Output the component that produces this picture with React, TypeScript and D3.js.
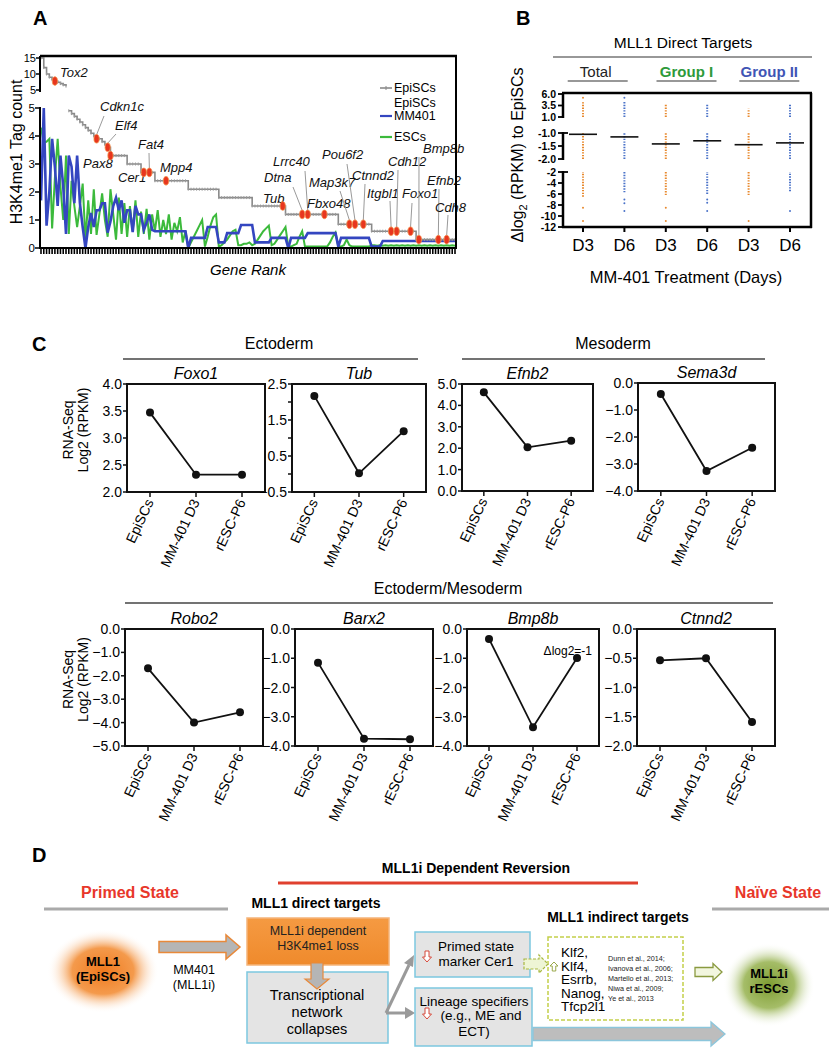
import React from 'react';
import * as d3 from 'd3';

const FONT = "Arial, 'Liberation Sans', Helvetica, sans-serif";

// ---------------- Panel A data ----------------
const A_GRAY = [
  15, 12, 10, 9, 8.3, 7.8, 7.4, 7.0, 6.6, 6.2,
  4.9, 4.8, 4.7, 4.6, 4.5, 4.4, 4.3, 4.2, 4.1, 4.0,
  3.9, 3.9, 3.8, 3.7, 3.6, 3.3, 3.3, 3.3, 3.3, 3.3,
  3.3, 3.0, 3.0, 3.0, 3.0, 3.0, 2.7, 2.7, 2.7, 2.7,
  2.7, 2.4, 2.4, 2.4, 2.4, 2.4, 2.4, 2.4, 2.4, 2.4,
  2.4, 2.4, 2.4, 2.1, 2.1, 2.1, 2.1, 2.1, 2.1, 2.1,
  2.1, 2.1, 2.1, 2.1, 1.8, 1.8, 1.8, 1.8, 1.8, 1.8,
  1.8, 1.8, 1.8, 1.8, 1.8, 1.8, 1.5, 1.5, 1.5, 1.5,
  1.5, 1.5, 1.5, 1.5, 1.5, 1.5, 1.5, 1.5, 1.2, 1.2,
  1.2, 1.2, 1.2, 1.2, 1.2, 1.2, 1.2, 1.2, 1.2, 1.2,
  1.2, 1.2, 1.2, 1.2, 1.2, 1.2, 1.2, 0.85, 0.85, 0.85,
  0.85, 0.85, 0.85, 0.85, 0.85, 0.85, 0.85, 0.85, 0.85, 0.6,
  0.6, 0.6, 0.6, 0.6, 0.6, 0.6, 0.6, 0.6, 0.6, 0.6,
  0.6, 0.6, 0.6, 0.6, 0.6, 0.3, 0.3, 0.3, 0.3, 0.3,
  0.3, 0.3, 0.3, 0.3, 0.3, 0.3, 0.3, 0.3, 0.3, 0.3,
];
const A_BLUE = [
  1.7, 5.0, 0.8, 2.0, 3.9, 2.9, 1.5, 3.3, 2.2, 0.5,
  3.3, 2.9, 1.6, 3.3, 1.6, 0.75, 0.0, 0.75, 1.25, 0.75,
  1.35, 1.35, 1.6, 1.6, 0.55, 0.95, 1.5, 1.8, 1.35, 1.7,
  0.9, 1.35, 1.35, 0.57, 1.5, 1.2, 1.2, 0.65, 0.9, 1.2,
  0.65, 0.6, 0.6, 0.6, 0.6, 0.6, 0.6, 0.6, 0.6, 0.6,
  0.6, 0.6, 0.6, 0.0, 0.36, 0.36, 0.36, 0.36, 0.36, 0.36,
  0.75, 0.75, 0.75, 0.75, 0.2, 0.2, 0.2, 0.53, 0.53, 0.53,
  0.53, 0.53, 0.82, 0.82, 0.82, 0.82, 0.82, 0.2, 0.2, 0.2,
  0.2, 0.2, 0.2, 0.36, 0.36, 0.36, 0.36, 0.36, 0.36, 0.0,
  0.36, 0.36, 0.36, 0.36, 0.36, 0.36, 0.53, 0.53, 0.53, 0.53,
  0.53, 0.53, 0.53, 0.53, 0.53, 0.53, 0.53, 0.05, 0.36, 0.36,
  0.36, 0.36, 0.36, 0.36, 0.36, 0.36, 0.36, 0.36, 0.36, 0.05,
  0.05, 0.05, 0.05, 0.25, 0.25, 0.25, 0.25, 0.25, 0.25, 0.25,
  0.25, 0.25, 0.25, 0.25, 0.25, 0.25, 0.25, 0.25, 0.25, 0.25,
  0.25, 0.25, 0.25, 0.25, 0.25, 0.25, 0.25, 0.25, 0.25, 0.25,
];
const A_GREEN = [
  4.3, 3.75, 3.8, 3.9, 0.7, 2.5, 3.9, 2.2, 1.0, 3.3,
  0.5, 2.4, 1.5, 0.75, 1.5, 2.3, 0.3, 1.7, 0.5, 2.1,
  0.47, 1.2, 1.95, 1.0, 0.4, 2.1, 1.2, 0.3, 1.8, 0.5,
  1.6, 0.4, 1.5, 0.6, 1.7, 0.4, 1.3, 0.5, 1.4, 0.3,
  1.2, 0.6, 1.35, 0.4, 1.0, 0.5, 1.2, 0.3, 0.9, 0.6,
  1.1, 0.2, 0.6, 0.0, 0.2, 0.4, 0.6, 0.8, 1.0, 0.05,
  0.4, 0.8, 1.1, 1.2, 0.05, 0.1, 0.2, 0.3, 0.45, 0.6,
  0.65, 0.1, 0.1, 0.15, 0.15, 0.2, 0.1, 0.15, 0.3, 0.45,
  0.6, 0.7, 0.8, 0.1, 0.15, 0.3, 0.45, 0.6, 0.75, 0.05,
  0.05, 0.1, 0.15, 0.4, 0.6, 0.05, 0.05, 0.05, 0.05, 0.05,
  0.05, 0.05, 0.05, 0.05, 0.2, 0.4, 0.55, 0.05, 0.05, 0.1,
  0.3, 0.1, 0.05, 0.05, 0.05, 0.05, 0.05, 0.05, 0.05, 0.1,
  0.1, 0.08, 0.1, 0.08, 0.1, 0.08, 0.1, 0.08, 0.1, 0.08,
  0.1, 0.08, 0.1, 0.08, 0.1, 0.08, 0.1, 0.08, 0.1, 0.08,
  0.1, 0.08, 0.1, 0.08, 0.1, 0.08, 0.1, 0.08, 0.1, 0.08,
];
const A_GENES = ['Tox2', 'Cdkn1c', 'Elf4', 'Pax8', 'Cer1', 'Fat4', 'Mpp4', 'Tub', 'Dtna', 'Lrrc40', 'Fbxo48',
  'Map3k7', 'Pou6f2', 'Ctnnd2', 'Itgbl1', 'Cdh12', 'Foxo1', 'Bmp8b', 'Efnb2', 'Cdh8'];
const A_GENE_RANKS = [5, 20, 24, 25, 37, 39, 45, 87, 94, 96, 102, 111, 113, 116, 126, 128, 133, 136, 143, 146];
const A_UPPER_TICKS = [15, 10, 5];
const A_LOWER_TICKS = [0, 1, 2, 3, 4, 5];

// label layout for panel A: [textX, textY, leaderStartX, leaderStartY] (null = no leader)
const A_LABEL_LAYOUT: Record<string, [number, number, number | null, number | null]> = {
  Tox2: [60, 77, null, null],
  Cdkn1c: [100, 111, 104, 116],
  Elf4: [115, 130, 116, 134],
  Pax8: [83, 168, null, null],
  Fat4: [138, 149, 149, 153],
  Cer1: [118, 182, null, null],
  Mpp4: [160, 172, null, null],
  Lrrc40: [273, 166, 305, 171],
  Dtna: [264, 182, 293, 187],
  Tub: [263, 203, null, null],
  Fbxo48: [307, 208, null, null],
  Map3k7: [309, 187, 340, 191],
  Pou6f2: [322, 159, 347, 164],
  Ctnnd2: [352, 180, 365, 184],
  Itgbl1: [367, 198, 390, 201],
  Cdh12: [388, 166, 398, 170],
  Foxo1: [402, 198, 412, 203],
  Bmp8b: [423, 153, 419, 157],
  Efnb2: [427, 185, 439, 189],
  Cdh8: [435, 212, 448, 215],
};

// ---------------- Panel B data ----------------
const B_GROUPS = ['Total', 'Group I', 'Group II'];
const B_DAYS = ['D3', 'D6', 'D3', 'D6', 'D3', 'D6'];
const B_MEDIANS = [-1.05, -1.15, -1.42, -1.3, -1.45, -1.38];
const B_UPPER_RANGES = [[1.0, 4.2], [1.0, 4.3], [1.0, 3.8], [1.0, 3.9], [1.0, 2.8], [1.0, 3.9]];
const B_UPPER_POINTS = [[5.2], [5.2], [], [], [], []];
const B_MIDDLE_RANGES = [[-2, -1], [-2, -1], [-2, -1], [-2, -1], [-2, -1], [-2, -1]];
const B_LOWER_RANGES = [[-6.5, -2], [-5.7, -2], [-6.2, -2], [-6.0, -2], [-6.2, -2], [-5.5, -2]];
const B_LOWER_POINTS = [[-8.5, -10.9], [-7.0, -7.7, -9.1], [-8.5, -10.9], [-7.0, -7.6, -9.1], [-10.9], [-9.1]];
const B_UPPER_TICKS = [6.0, 3.5, 1.0];
const B_MIDDLE_TICKS = [-1.0, -1.5, -2.0];
const B_LOWER_TICKS = [-2, -4, -6, -8, -10, -12];

// ---------------- Panel C data ----------------
const C_CONDITIONS = ['EpiSCs', 'MM-401 D3', 'rESC-P6'];
const C_GENES = ['Foxo1', 'Tub', 'Efnb2', 'Sema3d', 'Robo2', 'Barx2', 'Bmp8b', 'Ctnnd2'];
const C_VALUES = [
  [3.47, 2.32, 2.32],
  [2.17, 0.02, 1.19],
  [4.61, 2.04, 2.35],
  [-0.41, -3.26, -2.4],
  [-1.68, -4.0, -3.56],
  [-1.15, -3.75, -3.77],
  [-0.34, -3.36, -0.99],
  [-0.535, -0.5, -1.59],
];
const C_DOMAINS = [[2, 4], [-0.5, 2.5], [0, 5], [-4, 0], [-5, 0], [-4, 0], [-4, 0], [-2, 0]];
const C_TICKS = [
  [2, 2.5, 3, 3.5, 4],
  [-0.5, 0, 0.5, 1, 1.5, 2, 2.5],
  [0, 1, 2, 3, 4, 5],
  [-4, -3, -2, -1, 0],
  [-5, -4, -3, -2, -1, 0],
  [-4, -3, -2, -1, 0],
  [-4, -3, -2, -1, 0],
  [-2, -1.5, -1, -0.5, 0],
];
const C_LABELED_TICKS = [
  [2, 2.5, 3, 3.5, 4],
  [-0.5, 0.5, 1.5, 2.5],
  [0, 1, 2, 3, 4, 5],
  [-4, -3, -2, -1, 0],
  [-5, -4, -3, -2, -1, 0],
  [-4, -3, -2, -1, 0],
  [-4, -3, -2, -1, 0],
  [-2, -1.5, -1, -0.5, 0],
];
const C_GROUP_NAMES = ['Ectoderm', 'Mesoderm', 'Ectoderm/Mesoderm'];
const C_REFS = ['Dunn et al., 2014;', 'Ivanova et al., 2006;', 'Martello et al., 2013;', 'Niwa et al., 2009;', 'Ye et al., 2013'];
const D_INDIRECT = ['Klf2,', 'Klf4,', 'Esrrb,', 'Nanog,', 'Tfcp2l1'];

// layout of panel C boxes [x0, y0, x1, y1]
const C_BOXES = [
  [127, 384, 265, 492], [292, 384, 426, 492], [462, 384, 593, 491], [638, 383, 775, 491],
  [125, 629, 263, 746], [295, 629, 433, 746], [467, 629, 599, 746], [637, 629, 775, 746],
];

function arrowRight(x1: number, x2: number, yc: number, bodyH: number, headH: number, headL: number) {
  const b = bodyH / 2, h = headH / 2, xh = x2 - headL;
  return `M${x1},${yc - b}L${xh},${yc - b}L${xh},${yc - h}L${x2},${yc}L${xh},${yc + h}L${xh},${yc + b}L${x1},${yc + b}Z`;
}
function arrowDown(xc: number, y1: number, y2: number, bodyW: number, headW: number, headL: number) {
  const b = bodyW / 2, h = headW / 2, yh = y2 - headL;
  return `M${xc - b},${y1}L${xc - b},${yh}L${xc - h},${yh}L${xc},${y2}L${xc + h},${yh}L${xc + b},${yh}L${xc + b},${y1}Z`;
}
function arrowUp(xc: number, y1: number, y2: number, bodyW: number, headW: number, headL: number) {
  const b = bodyW / 2, h = headW / 2, yh = y2 + headL;
  return `M${xc - b},${y1}L${xc - b},${yh}L${xc - h},${yh}L${xc},${y2}L${xc + h},${yh}L${xc + b},${yh}L${xc + b},${y1}Z`;
}

function PanelA() {
  const n = A_GRAY.length;
  const x = d3.scaleLinear().domain([0, n - 1]).range([41, 455]);
  const yL = d3.scaleLinear().domain([0, 5]).range([248, 108]);
  const yU = d3.scaleLinear().domain([5, 15]).range([90, 58]);
  const pts = A_GRAY.map((v, i) => [i, v] as [number, number]);
  const upper = pts.filter(p => p[1] > 5);
  const lower = pts.filter(p => p[1] <= 5);
  const stepU = d3.line<[number, number]>().x(p => x(p[0])).y(p => yU(p[1])).curve(d3.curveStepAfter);
  const stepL = d3.line<[number, number]>().x(p => x(p[0])).y(p => yL(p[1])).curve(d3.curveStepAfter);
  const lin = d3.line<number>().x((_, i) => x(i)).y(v => yL(Math.min(v, 5)));
  const yOfGray = (v: number) => (v > 5 ? yU(v) : yL(v));
  return (
    <g>
      <text x={33} y={25} fontSize={20} fontWeight="bold">A</text>
      <path d={lin(A_GREEN) || ''} fill="none" stroke="#3cba3c" strokeWidth={2} />
      <path d={lin(A_BLUE) || ''} fill="none" stroke="#3446c0" strokeWidth={2.6} />
      <path d={stepU(upper) || ''} fill="none" stroke="#8a8a8a" strokeWidth={1.6} />
      <path d={stepL(lower) || ''} fill="none" stroke="#8a8a8a" strokeWidth={1.6} />
      {pts.map(([i, v]) => (
        <line key={'gm' + i} x1={x(i)} x2={x(i)} y1={yOfGray(v) - 1.5} y2={yOfGray(v) + 1.5} stroke="#9a9a9a" strokeWidth={1} />
      ))}
      {A_GENES.map((g, k) => {
        const r = A_GENE_RANKS[k];
        const mx = x(r), my = yOfGray(A_GRAY[r]);
        const [tx, ty, lx, ly] = A_LABEL_LAYOUT[g];
        return (
          <g key={g}>
            {lx !== null && ly !== null && (
              <line x1={lx} y1={ly} x2={mx} y2={my - 4} stroke="#9a9a9a" strokeWidth={1} />
            )}
            <text x={tx} y={ty} fontSize={13} fontStyle="italic" fill="#111">{g}</text>
          </g>
        );
      })}
      {A_GENES.map((g, k) => {
        const r = A_GENE_RANKS[k];
        return <ellipse key={'mk' + g} cx={x(r)} cy={yOfGray(A_GRAY[r])} rx={2.6} ry={4.3} fill="#e8361e" stroke="#f5904a" strokeWidth={0.8} />;
      })}
      <line x1={40} x2={457} y1={56} y2={56} stroke="#000" strokeWidth={2.5} />
      <line x1={456} x2={456} y1={56} y2={249} stroke="#000" strokeWidth={2} />
      <line x1={40} x2={457} y1={248} y2={248} stroke="#000" strokeWidth={2} />
      <line x1={40} x2={40} y1={56} y2={92} stroke="#000" strokeWidth={2} />
      <line x1={40} x2={40} y1={107} y2={249} stroke="#000" strokeWidth={2} />
      {A_GRAY.map((_, i) => (
        <line key={'xt' + i} x1={x(i)} x2={x(i)} y1={248} y2={254} stroke="#000" strokeWidth={1.6} />
      ))}
      {A_UPPER_TICKS.map(t => (
        <g key={'ut' + t}>
          <line x1={36} x2={40} y1={yU(t)} y2={yU(t)} stroke="#000" strokeWidth={1.5} />
          <text x={36} y={yU(t) + 4} fontSize={11} textAnchor="end">{t}</text>
        </g>
      ))}
      {A_LOWER_TICKS.map(t => (
        <g key={'lt' + t}>
          <line x1={35} x2={40} y1={yL(t)} y2={yL(t)} stroke="#000" strokeWidth={1.5} />
          <text x={35} y={yL(t) + 4} fontSize={11.5} textAnchor="end">{t}</text>
        </g>
      ))}
      <text transform="translate(22,152) rotate(-90)" fontSize={16} textAnchor="middle">H3K4me1 Tag count</text>
      <text x={248} y={275} fontSize={15} fontStyle="italic" textAnchor="middle">Gene Rank</text>
      <line x1={380} x2={392} y1={88} y2={88} stroke="#8a8a8a" strokeWidth={1.6} />
      <line x1={386} x2={386} y1={86} y2={90} stroke="#8a8a8a" strokeWidth={1} />
      <text x={394} y={92} fontSize={12.5}>EpiSCs</text>
      <text x={394} y={107} fontSize={12.5}>EpiSCs</text>
      <line x1={380} x2={392} y1={116} y2={116} stroke="#3446c0" strokeWidth={2.2} />
      <text x={394} y={120} fontSize={12.5}>MM401</text>
      <line x1={380} x2={392} y1={137} y2={137} stroke="#3cba3c" strokeWidth={2.2} />
      <text x={394} y={141} fontSize={12.5}>ESCs</text>
    </g>
  );
}

function PanelB() {
  const x = d3.scalePoint<number>().domain(B_DAYS.map((_, i) => i)).range([583, 790]);
  const yU = d3.scaleLinear().domain([1, 6]).range([117, 94]);
  const yM = d3.scaleLinear().domain([-2, -1]).range([159, 133]);
  const yLo = d3.scaleLinear().domain([-12, -2]).range([227, 172]);
  const colColor = (i: number) => (i % 2 === 0 ? '#e8892e' : '#4a72c8');
  const groupColors = ['#222', '#2e9a3a', '#3f55b5'];
  const dash = '1.4 1.3';
  return (
    <g>
      <text x={516} y={25} fontSize={20} fontWeight="bold">B</text>
      <text x={683} y={48} fontSize={15.5} textAnchor="middle">MLL1 Direct Targets</text>
      <line x1={553} x2={812} y1={57} y2={57} stroke="#333" strokeWidth={1.2} />
      {B_GROUPS.map((g, k) => {
        const cx = ((x(k * 2) as number) + (x(k * 2 + 1) as number)) / 2;
        return (
          <g key={g}>
            <text x={cx - (k === 0 ? 8 : 0)} y={77} fontSize={15} fontWeight={k === 0 ? 'normal' : 'bold'} fill={groupColors[k]} textAnchor="middle">{g}</text>
            <line x1={cx - 30 - (k === 0 ? 6 : 0)} x2={cx + 30 - (k === 0 ? 6 : 0)} y1={81} y2={81} stroke="#333" strokeWidth={1.2} />
          </g>
        );
      })}
      {B_DAYS.map((_, i) => {
        const cx = x(i) as number;
        const c = colColor(i);
        return (
          <g key={'col' + i}>
            <line x1={cx} x2={cx} y1={yU(B_UPPER_RANGES[i][0])} y2={yU(B_UPPER_RANGES[i][1])} stroke={c} strokeWidth={2} strokeDasharray={dash} />
            {B_UPPER_POINTS[i].map(v => <circle key={'u' + v} cx={cx} cy={yU(v)} r={1} fill={c} />)}
            <line x1={cx} x2={cx} y1={yM(B_MIDDLE_RANGES[i][0])} y2={yM(B_MIDDLE_RANGES[i][1])} stroke={c} strokeWidth={2} strokeDasharray={dash} />
            <line x1={cx} x2={cx} y1={yLo(B_LOWER_RANGES[i][0])} y2={yLo(B_LOWER_RANGES[i][1])} stroke={c} strokeWidth={2} strokeDasharray={dash} />
            {B_LOWER_POINTS[i].map(v => <circle key={'l' + v} cx={cx} cy={yLo(v)} r={1} fill={c} />)}
            <line x1={cx - 14} x2={cx + 14} y1={yM(B_MEDIANS[i])} y2={yM(B_MEDIANS[i])} stroke="#111" strokeWidth={1.6} />
            <line x1={cx} x2={cx} y1={227} y2={232} stroke="#000" strokeWidth={2} />
            <text x={cx} y={251} fontSize={17} textAnchor="middle">{B_DAYS[i]}</text>
          </g>
        );
      })}
      <line x1={562} x2={812} y1={93} y2={93} stroke="#000" strokeWidth={2.5} />
      <line x1={811} x2={811} y1={93} y2={228} stroke="#000" strokeWidth={2.5} />
      <line x1={562} x2={812} y1={227} y2={227} stroke="#000" strokeWidth={2.5} />
      <line x1={563} x2={563} y1={93} y2={118} stroke="#000" strokeWidth={2.5} />
      <line x1={563} x2={563} y1={132} y2={160} stroke="#000" strokeWidth={2.5} />
      <line x1={563} x2={563} y1={171} y2={228} stroke="#000" strokeWidth={2.5} />
      {B_UPPER_TICKS.map(t => (
        <g key={'bu' + t}>
          <line x1={558} x2={563} y1={yU(t)} y2={yU(t)} stroke="#000" strokeWidth={1.8} />
          <text x={556} y={yU(t) + 3.5} fontSize={10.5} fontWeight="bold" textAnchor="end">{t.toFixed(1)}</text>
        </g>
      ))}
      {B_MIDDLE_TICKS.map(t => (
        <g key={'bm' + t}>
          <line x1={558} x2={563 + (t === -1 ? 5 : 0)} y1={yM(t)} y2={yM(t)} stroke="#000" strokeWidth={1.8} />
          <text x={556} y={yM(t) + 3.5} fontSize={10.5} fontWeight="bold" textAnchor="end">{t.toFixed(1)}</text>
        </g>
      ))}
      {B_LOWER_TICKS.map(t => (
        <g key={'bl' + t}>
          <line x1={558} x2={563 + (t === -2 ? 5 : 0)} y1={yLo(t)} y2={yLo(t)} stroke="#000" strokeWidth={1.8} />
          <text x={556} y={yLo(t) + 3.5} fontSize={10.5} fontWeight="bold" textAnchor="end">{t}</text>
        </g>
      ))}
      <text transform="translate(523,155) rotate(-90)" fontSize={16} textAnchor="middle">
        Δlog<tspan fontSize={11} dy={4}>2</tspan><tspan dy={-4}> (RPKM) to EpiSCs</tspan>
      </text>
      <text x={686} y={283} fontSize={16.5} textAnchor="middle">MM-401 Treatment (Days)</text>
    </g>
  );
}

function SmallPlot({ idx, showYTitle }: { idx: number; showYTitle: boolean }) {
  const [x0, y0, x1, y1] = C_BOXES[idx];
  const x = d3.scalePoint<string>().domain(C_CONDITIONS).range([x0, x1]).padding(0.5);
  const y = d3.scaleLinear().domain(C_DOMAINS[idx]).range([y1, y0]);
  const vals = C_VALUES[idx];
  const line = d3.line<number>().x((_, i) => x(C_CONDITIONS[i]) as number).y(v => y(v));
  const fmt = d3.format('.1f');
  return (
    <g>
      <text x={(x0 + x1) / 2} y={y0 - 5} fontSize={16} fontStyle="italic" textAnchor="middle">{C_GENES[idx]}</text>
      <path d={line(vals) || ''} fill="none" stroke="#111" strokeWidth={1.8} />
      {vals.map((v, i) => <circle key={i} cx={x(C_CONDITIONS[i]) as number} cy={y(v)} r={4} fill="#111" />)}
      <rect x={x0} y={y0} width={x1 - x0} height={y1 - y0} fill="none" stroke="#111" strokeWidth={2} />
      {C_TICKS[idx].map(t => (
        <line key={'t' + t} x1={x0 - 4} x2={x0} y1={y(t)} y2={y(t)} stroke="#111" strokeWidth={1.5} />
      ))}
      {C_LABELED_TICKS[idx].map(t => (
        <text key={'l' + t} x={x0 - 5} y={y(t) + 5} fontSize={14} textAnchor="end">{fmt(t)}</text>
      ))}
      {C_CONDITIONS.map(c => {
        const px = x(c) as number;
        return (
          <g key={c}>
            <line x1={px} x2={px} y1={y1} y2={y1 + 5} stroke="#111" strokeWidth={1.5} />
            <text transform={`translate(${px + 4},${y1 + 10}) rotate(-65)`} fontSize={14} textAnchor="end">{c}</text>
          </g>
        );
      })}
      {showYTitle && (
        <text transform={`translate(73,${(y0 + y1) / 2 - 8}) rotate(-90)`} fontSize={14} textAnchor="middle">
          <tspan x={0} dy={0}>RNA-Seq</tspan>
          <tspan x={0} dy={15}>Log2 (RPKM)</tspan>
        </text>
      )}
    </g>
  );
}

function PanelC() {
  return (
    <g>
      <text x={32} y={351} fontSize={20} fontWeight="bold">C</text>
      <text x={279} y={349} fontSize={16} textAnchor="middle">{C_GROUP_NAMES[0]}</text>
      <line x1={123} x2={418} y1={359} y2={359} stroke="#444" strokeWidth={1.3} />
      <text x={613} y={349} fontSize={16} textAnchor="middle">{C_GROUP_NAMES[1]}</text>
      <line x1={462} x2={765} y1={359} y2={359} stroke="#444" strokeWidth={1.3} />
      <text x={448} y={594} fontSize={16} textAnchor="middle">{C_GROUP_NAMES[2]}</text>
      <line x1={125} x2={773} y1={603} y2={603} stroke="#444" strokeWidth={1.3} />
      {C_GENES.map((_, i) => <SmallPlot key={i} idx={i} showYTitle={i === 0 || i === 4} />)}
      <text x={592} y={655} fontSize={12} textAnchor="end">Δlog2=-1</text>
    </g>
  );
}

function PanelD() {
  return (
    <g>
      <defs>
        <radialGradient id="gOrange" cx="50%" cy="50%" r="50%">
          <stop offset="0%" stopColor="#f07a1e" />
          <stop offset="55%" stopColor="#f49a4c" />
          <stop offset="100%" stopColor="#ffffff" stopOpacity={0} />
        </radialGradient>
        <radialGradient id="gGreen" cx="50%" cy="50%" r="50%">
          <stop offset="0%" stopColor="#7e9c32" />
          <stop offset="55%" stopColor="#a5bd68" />
          <stop offset="100%" stopColor="#ffffff" stopOpacity={0} />
        </radialGradient>
        <linearGradient id="gBox" x1="0" y1="0" x2="0" y2="1">
          <stop offset="0%" stopColor="#f59a42" />
          <stop offset="100%" stopColor="#ef8a2c" />
        </linearGradient>
      </defs>
      <text x={32} y={862} fontSize={20} fontWeight="bold">D</text>
      <text x={476} y={873} fontSize={14} fontWeight="bold" textAnchor="middle">MLL1i Dependent Reversion</text>
      <line x1={278} x2={638} y1={883} y2={883} stroke="#e0402e" strokeWidth={3} />
      <text x={130} y={898} fontSize={16} fontWeight="bold" fill="#e8372a" textAnchor="middle">Primed State</text>
      <line x1={44} x2={228} y1={909} y2={909} stroke="#aaaaaa" strokeWidth={3} />
      <text x={778} y={898} fontSize={16} fontWeight="bold" fill="#e8372a" textAnchor="middle">Naïve State</text>
      <line x1={712} x2={829} y1={909} y2={909} stroke="#aaaaaa" strokeWidth={3} />

      <ellipse cx={103} cy={971} rx={56} ry={42} fill="url(#gOrange)" />
      <text x={103} y={966} fontSize={13} fontWeight="bold" textAnchor="middle">MLL1</text>
      <text x={103} y={981} fontSize={13} fontWeight="bold" textAnchor="middle">(EpiSCs)</text>
      <path d={arrowRight(159, 240, 947, 11, 24, 14)} fill="#b5b5b5" stroke="#e8893a" strokeWidth={1.5} />
      <text x={194} y={974} fontSize={12.5} textAnchor="middle">MM401</text>
      <text x={194} y={989} fontSize={12.5} textAnchor="middle">(MLL1i)</text>

      <text x={316} y={908} fontSize={14} fontWeight="bold" textAnchor="middle">MLL1 direct targets</text>
      <rect x={247} y={918} width={142} height={47} fill="url(#gBox)" stroke="#f5b47a" strokeWidth={1.5} />
      <text x={318} y={935} fontSize={12.5} fill="#222" textAnchor="middle">MLL1i dependent</text>
      <text x={318} y={950} fontSize={12.5} fill="#222" textAnchor="middle">H3K4me1 loss</text>
      <rect x={247} y={972} width={141} height={71} fill="#e4e4e4" stroke="#7cc7df" strokeWidth={1.5} />
      <path d={arrowDown(317, 963, 989, 12, 24, 10)} fill="#b5b5b5" stroke="#e8893a" strokeWidth={1.2} />
      <text x={317} y={1000} fontSize={14.5} textAnchor="middle">Transcriptional</text>
      <text x={317} y={1017} fontSize={14.5} textAnchor="middle">network</text>
      <text x={317} y={1034} fontSize={14.5} textAnchor="middle">collapses</text>

      <line x1={386} y1={1013} x2={409} y2={965} stroke="#9a9a9a" strokeWidth={3} />
      <path d="M414,955 L404,963 L413,967 Z" fill="#9a9a9a" />
      <line x1={386} y1={1013} x2={406} y2={1013} stroke="#9a9a9a" strokeWidth={3} />
      <path d="M415,1013 L405,1007 L405,1019 Z" fill="#9a9a9a" />

      <rect x={415} y={932} width={115} height={45} fill="#e4e4e4" stroke="#7cc7df" strokeWidth={1.5} />
      <path d={arrowDown(427, 951, 962, 4, 9, 5)} fill="#fff" stroke="#d6483a" strokeWidth={1} />
      <text x={476} y={951} fontSize={13.5} textAnchor="middle">Primed state</text>
      <text x={476} y={966} fontSize={13.5} textAnchor="middle">marker Cer1</text>

      <rect x={415} y={988} width={117} height={58} fill="#e4e4e4" stroke="#7cc7df" strokeWidth={1.5} />
      <text x={474} y={1006} fontSize={13.5} textAnchor="middle">Lineage specifiers</text>
      <path d={arrowDown(427, 1008, 1019, 4, 9, 5)} fill="#fff" stroke="#d6483a" strokeWidth={1} />
      <text x={481} y={1020} fontSize={13.5} textAnchor="middle">(e.g., ME and</text>
      <text x={474} y={1036} fontSize={13.5} textAnchor="middle">ECT)</text>

      <path d={arrowRight(533, 725, 1034, 13, 24, 14)} fill="#bdbdbd" stroke="#8cc6dc" strokeWidth={1.3} />

      <text x={618} y={922} fontSize={14} fontWeight="bold" textAnchor="middle">MLL1 indirect targets</text>
      <rect x={548} y={937} width={135} height={83} fill="#fff" stroke="#c4cf4a" strokeWidth={1.5} strokeDasharray="4 2" />
      <path d={arrowRight(524, 548, 964, 10, 18, 9)} fill="#eef5d5" stroke="#a8b840" strokeWidth={1.2} strokeDasharray="3 1.5" />
      <path d={arrowUp(554, 971, 962, 3.5, 8, 4)} fill="#fff" stroke="#9aa84a" strokeWidth={1} />
      {D_INDIRECT.map((t, i) => (
        <text key={t} x={561} y={957 + i * 13.5} fontSize={13.5}>{t}</text>
      ))}
      {C_REFS.map((t, i) => (
        <text key={t} x={608} y={961 + i * 10} fontSize={7.2} fill="#222">{t}</text>
      ))}
      <path d={arrowRight(695, 722, 972, 9, 17, 9)} fill="#f2f6df" stroke="#8a9a40" strokeWidth={1.3} />

      <ellipse cx={769} cy={985} rx={46} ry={42} fill="url(#gGreen)" />
      <text x={769} y={978} fontSize={13} fontWeight="bold" textAnchor="middle">MLL1i</text>
      <text x={769} y={993} fontSize={13} fontWeight="bold" textAnchor="middle">rESCs</text>
    </g>
  );
}

export default function App() {
  return (
    <svg width={835} height={1050} viewBox="0 0 835 1050" fontFamily={FONT}
      style={{ position: 'absolute', left: 0, top: 0, display: 'block', background: '#fff' }}>
      <rect width={835} height={1050} fill="#fff" />
      <PanelA />
      <PanelB />
      <PanelC />
      <PanelD />
    </svg>
  );
}
